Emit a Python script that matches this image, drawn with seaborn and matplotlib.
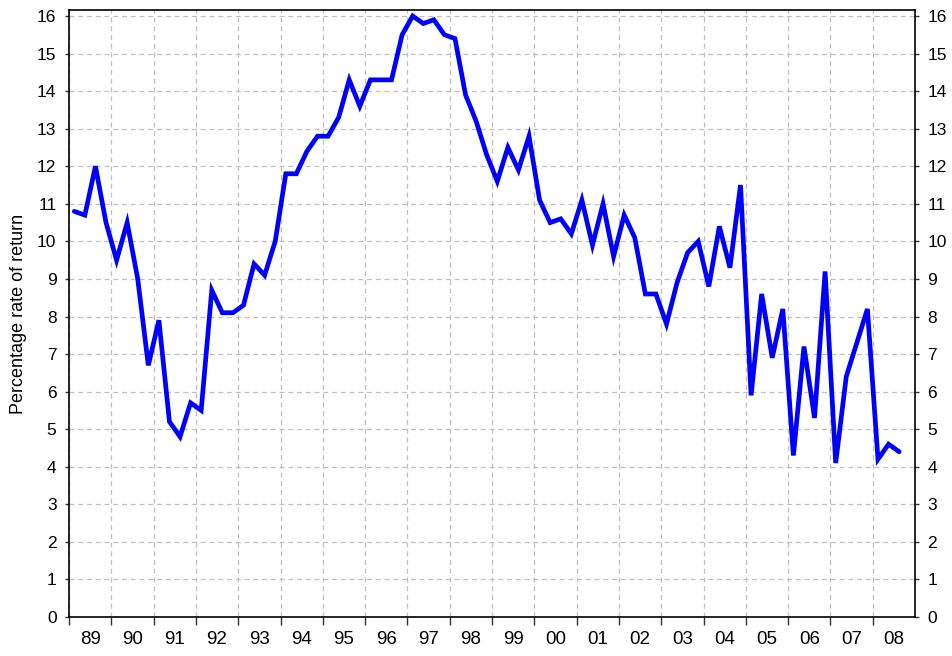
import matplotlib
matplotlib.use("Agg")
import matplotlib.pyplot as plt
import seaborn as sns
import pandas as pd
import numpy as np

# Quarterly rate of return, 1989 Q1 - 2008 Q3
returns = [
    10.8, 10.7, 12.0, 10.5,   # 1989
    9.5, 10.5, 9.0, 6.7,      # 1990
    7.9, 5.2, 4.8, 5.7,       # 1991
    5.5, 8.7, 8.1, 8.1,       # 1992
    8.3, 9.4, 9.1, 10.0,      # 1993
    11.8, 11.8, 12.4, 12.8,   # 1994
    12.8, 13.3, 14.3, 13.6,   # 1995
    14.3, 14.3, 14.3, 15.5,   # 1996
    16.0, 15.8, 15.9, 15.5,   # 1997
    15.4, 13.9, 13.2, 12.3,   # 1998
    11.6, 12.5, 11.9, 12.8,   # 1999
    11.1, 10.5, 10.6, 10.2,   # 2000
    11.1, 9.9, 11.0, 9.6,     # 2001
    10.7, 10.1, 8.6, 8.6,     # 2002
    7.8, 8.9, 9.7, 10.0,      # 2003
    8.8, 10.4, 9.3, 11.5,     # 2004
    5.9, 8.6, 6.9, 8.2,       # 2005
    4.3, 7.2, 5.3, 9.2,       # 2006
    4.1, 6.4, 7.3, 8.2,       # 2007
    4.2, 4.6, 4.4,            # 2008
]
year_labels = ["89", "90", "91", "92", "93", "94", "95", "96", "97", "98",
               "99", "00", "01", "02", "03", "04", "05", "06", "07", "08"]
y_ticks = list(range(0, 17))
y_label = "Percentage rate of return"

df = pd.DataFrame({"quarter": np.arange(len(returns)), "value": returns})

sns.set_theme(style="white")
plt.rcParams["font.family"] = ["Liberation Sans", "DejaVu Sans"]
plt.rcParams["text.color"] = "black"
plt.rcParams["xtick.color"] = "black"
plt.rcParams["ytick.color"] = "black"
plt.rcParams["axes.labelcolor"] = "black"

fig = plt.figure(figsize=(9.52, 6.56), dpi=100)
ax = fig.add_axes([69 / 952, 39 / 656, 846 / 952, 607 / 656])

sns.lineplot(data=df, x="quarter", y="value", ax=ax, color="#0000FF",
             linewidth=3.4, solid_joinstyle="miter")

n_q = len(year_labels) * 4
ax.set_xlim(-0.5, n_q - 0.5)
ax.set_ylim(0, 16.16)

boundaries = [-0.5 + 4 * k for k in range(len(year_labels))]
centers = [1.5 + 4 * k for k in range(len(year_labels))]
ax.set_xticks(boundaries)
ax.set_xticklabels([])
ax.set_xticks(centers, minor=True)
ax.set_xticklabels(year_labels, minor=True, fontsize=13.5, color="black")
ax.tick_params(axis="x", which="major", direction="out", length=6, width=1,
               color="#333333", bottom=True)
ax.tick_params(axis="x", which="minor", length=0, pad=10)

ax.set_yticks(y_ticks)
ax.set_yticklabels([str(v) for v in y_ticks], fontsize=12.5, color="black")
ax.tick_params(axis="y", which="major", direction="out", length=3, width=1,
               color="#333333", left=True, right=True, labelleft=True,
               labelright=True, pad=6, labelcolor="black")

ax.grid(True, which="major", axis="both", color="#c0c0c0",
        linestyle=(0, (4, 3)), linewidth=0.9)
ax.set_axisbelow(True)

for s in ax.spines.values():
    s.set_visible(True)
    s.set_color("black")
    s.set_linewidth(1.2)

ax.set_xlabel("")
ax.set_ylabel(y_label, fontsize=13, labelpad=7, color="black")

fig.savefig("out.png", dpi=100, facecolor="white")
